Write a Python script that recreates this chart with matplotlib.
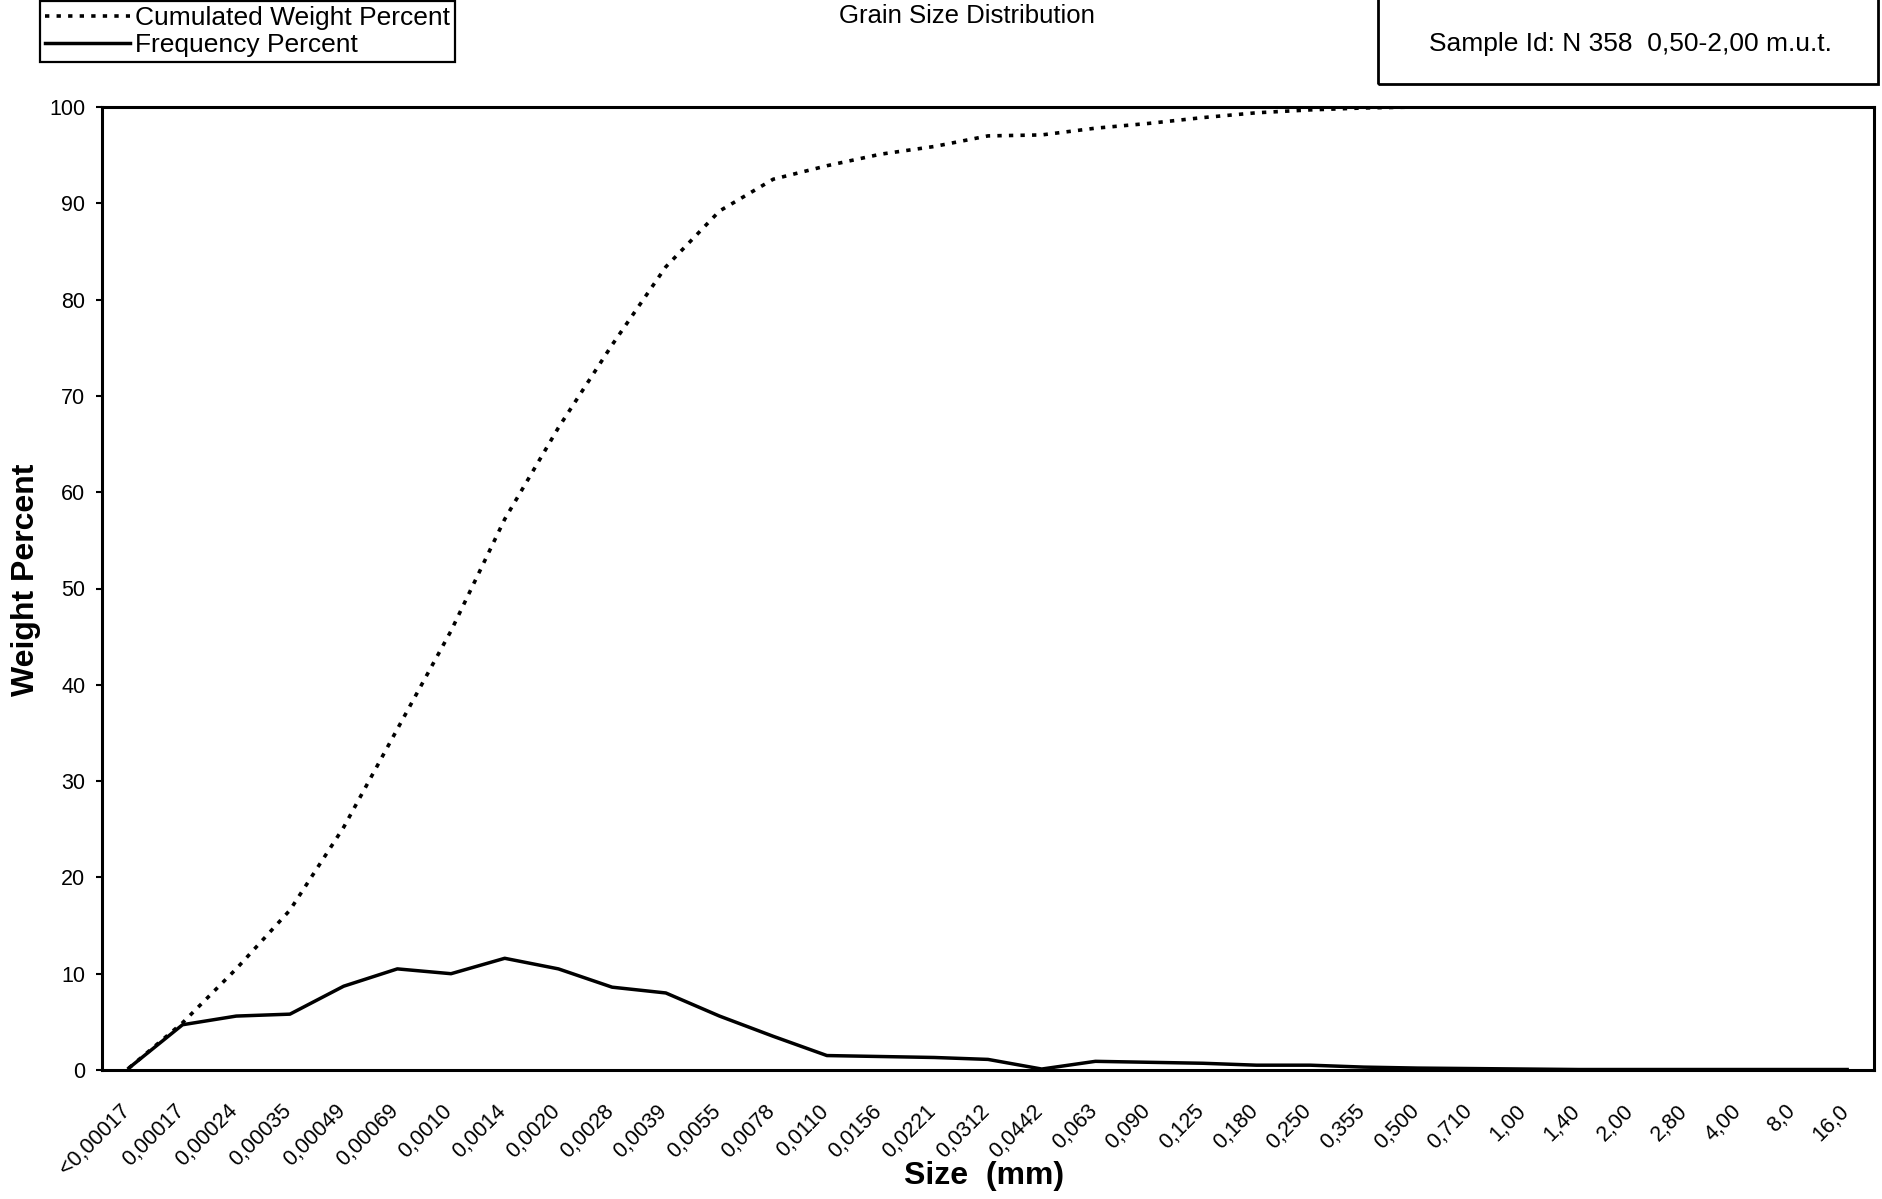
import matplotlib
matplotlib.use('Agg')
import matplotlib.pyplot as plt
from matplotlib.patches import Rectangle
from matplotlib.transforms import ScaledTranslation
import numpy as np

plt.rcParams['font.family'] = ['Liberation Sans', 'DejaVu Sans']

# Klasy uziarnienia (mm)
sizes = ['<0,00017', '0,00017', '0,00024', '0,00035', '0,00049', '0,00069',
         '0,0010', '0,0014', '0,0020', '0,0028', '0,0039', '0,0055', '0,0078',
         '0,0110', '0,0156', '0,0221', '0,0312', '0,0442', '0,063', '0,090',
         '0,125', '0,180', '0,250', '0,355', '0,500', '0,710', '1,00', '1,40',
         '2,00', '2,80', '4,00', '8,0', '16,0']

# Procent wagowy w klasie
frequency = [0.2, 4.7, 5.6, 5.8, 8.7, 10.5, 10.0, 11.6, 10.5, 8.6, 8.0, 5.6,
             3.5, 1.5, 1.4, 1.3, 1.1, 0.1, 0.9, 0.8, 0.7, 0.5, 0.5, 0.3,
             0.2, 0.15, 0.1, 0.05, 0.05, 0.05, 0.05, 0.05, 0.05]

# Procent skumulowany
cumulated = [0.2, 4.9, 10.5, 16.6, 25.2, 35.4, 45.6, 57.2, 66.7, 75.3, 83.4,
             89.2, 92.5, 93.9, 95.1, 95.9, 97.0, 97.1, 97.8, 98.3, 98.9, 99.4,
             99.7, 99.9, 100.0, 100.0, 100.0, 100.0, 100.0, 100.0, 100.0,
             100.0, 100.0]

yTicks = [0, 10, 20, 30, 40, 50, 60, 70, 80, 90, 100]

W, H = 1882, 1199
fig = plt.figure(figsize=(W / 100, H / 100), dpi=100)
ax = fig.add_axes([102 / W, 1 - 1070 / H, (1874 - 102) / W, (1070 - 107) / H])

x = np.arange(len(sizes))
lineCum, = ax.plot(x, cumulated, color='black', linewidth=2.6,
                   linestyle=(0, (1.2, 2.0)), label='Cumulated Weight Percent')
lineFreq, = ax.plot(x, frequency, color='black', linewidth=2.5,
                    label='Frequency Percent')

ax.set_xlim(-0.5, len(sizes) - 0.5)
ax.set_ylim(0, 100)
ax.set_yticks(yTicks)
ax.set_xticks(x)
ax.set_xticklabels(sizes, rotation=45, ha='right', va='top',
                   rotation_mode='anchor', fontsize=15.5)
ax.tick_params(axis='x', length=0, pad=22)
ax.tick_params(axis='y', direction='out', length=4, width=1.5, pad=8,
               labelsize=15.5)
for label in ax.get_xticklabels():
    label.set_transform(label.get_transform()
                        + ScaledTranslation(-9 / 100, 0, fig.dpi_scale_trans))
for spine in ax.spines.values():
    spine.set_linewidth(2.2)
    spine.set_color('black')

# Opisy osi i tytuł
fig.text(26 / W, 1 - 580 / H, 'Weight Percent', rotation=90, ha='center',
         va='center', fontsize=23, fontweight='bold')
fig.text(984 / W, 1 - 1176 / H, 'Size  (mm)', ha='center', va='center',
         fontsize=23, fontweight='bold')
fig.text(967 / W, 1 - 16 / H, 'Grain Size Distribution', ha='center',
         va='center', fontsize=18.5)

# Ramka z identyfikatorem próbki
fig.patches.append(Rectangle((1378 / W, 1 - 84 / H), 500 / W, 84 / H + 0.01,
                             transform=fig.transFigure, fill=False,
                             edgecolor='black', linewidth=2))
fig.text(1630 / W, 1 - 44 / H, 'Sample Id: N 358  0,50-2,00 m.u.t.',
         ha='center', va='center', fontsize=19)

leg = fig.legend(handles=[lineCum, lineFreq], loc='upper left',
                 bbox_to_anchor=(40 / W, 1 - 1 / H), fontsize=19,
                 handlelength=3.2, handletextpad=0.2, borderpad=0.2,
                 labelspacing=0.1, borderaxespad=0, fancybox=False,
                 framealpha=1, edgecolor='black')
leg.get_frame().set_linewidth(1.6)

fig.savefig('out.png', dpi=100)
